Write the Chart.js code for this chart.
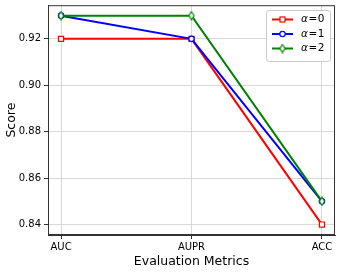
<!DOCTYPE html>
<html><head><meta charset="utf-8">
<script src="https://cdn.jsdelivr.net/npm/chart.js@4/dist/chart.umd.min.js"></script>
<style>html,body{margin:0;padding:0;background:#fff}#wrap{width:341px;height:273px}</style>
</head><body><div id="wrap"><canvas id="c" width="341" height="273"></canvas></div>
<script>
const categories = ['AUC', 'AUPR', 'ACC'];
const alphaLabels = ['0', '1', '2'];
const alpha0 = [0.92, 0.92, 0.84];
const alpha1 = [0.93, 0.92, 0.85];
const alpha2 = [0.93, 0.93, 0.85];
const yTicks = [0.84, 0.86, 0.88, 0.90, 0.92];
const colors = ['#ff0000', '#0000ff', '#008000'];
const FONT = '"DejaVu Sans", sans-serif';

function thinDiamond(color) {
  const c = document.createElement('canvas');
  c.width = 8; c.height = 10;
  const g = c.getContext('2d');
  g.fillStyle = '#fff'; g.strokeStyle = color; g.lineWidth = 1.2;
  g.beginPath(); g.moveTo(4, 1); g.lineTo(6.6, 5); g.lineTo(4, 9); g.lineTo(1.4, 5); g.closePath();
  g.fill(); g.stroke();
  return c;
}
const diamondImg = thinDiamond(colors[2]);
const styles = ['rect', 'circle', diamondImg];
const radii = [3.6, 2.7, 4];

const series = [alpha0, alpha1, alpha2];
const datasets = series.map((s, i) => ({
  label: alphaLabels[i],
  data: s.map((v, j) => ({x: j, y: v})),
  borderColor: colors[i],
  backgroundColor: '#fff',
  borderWidth: 2,
  pointStyle: styles[i],
  pointRadius: radii[i],
  pointBorderWidth: 1.2,
  pointBackgroundColor: '#fff',
  pointBorderColor: colors[i],
  tension: 0,
  order: 3 - i
}));

const framePlugin = {
  id: 'frame',
  afterDatasetsDraw(chart) {
    const {ctx, chartArea: a} = chart;
    ctx.save();
    ctx.strokeStyle = '#333'; ctx.lineWidth = 1;
    ctx.strokeRect(a.left + 0.5, a.top + 0.5, a.right - a.left - 1, a.bottom - a.top - 1);
    // legend
    const lx = 266.5, ly = 10.5, lw = 64, lh = 51;
    ctx.fillStyle = 'rgba(255,255,255,0.8)';
    ctx.strokeStyle = '#cccccc';
    ctx.beginPath();
    ctx.roundRect(lx, ly, lw, lh, 2.5);
    ctx.fill(); ctx.stroke();
    chart.data.datasets.forEach((ds, i) => {
      const y = 19.5 + i * 14.5;
      ctx.strokeStyle = ds.borderColor; ctx.lineWidth = 2;
      ctx.beginPath(); ctx.moveTo(272, y); ctx.lineTo(293, y); ctx.stroke();
      ctx.lineWidth = 1.2; ctx.fillStyle = '#fff';
      if (i === 0) { ctx.fillRect(280, y - 2.5, 5, 5); ctx.strokeRect(280, y - 2.5, 5, 5); }
      else if (i === 1) { ctx.beginPath(); ctx.arc(282.5, y, 2.7, 0, Math.PI * 2); ctx.fill(); ctx.stroke(); }
      else { ctx.drawImage(diamondImg, 278.5, y - 5); }
      ctx.fillStyle = '#000'; ctx.textBaseline = 'middle'; ctx.textAlign = 'left';
      ctx.font = 'italic 10.5px ' + FONT;
      let x = 301;
      ctx.fillText('α', x, y);
      x += ctx.measureText('α').width + 0.5;
      ctx.font = '10.5px ' + FONT;
      ctx.fillText('=', x, y);
      x += ctx.measureText('=').width + 0.5;
      ctx.fillText(ds.label, x, y);
    });
    ctx.restore();
  }
};

new Chart(document.getElementById('c'), {
  type: 'line',
  data: {datasets},
  options: {
    responsive: false, animation: false,
    layout: {padding: {top: 5, right: 6, left: 0, bottom: 0}},
    plugins: {legend: {display: false}, tooltip: {enabled: false}},
    scales: {
      x: {
        type: 'linear', min: -0.1, max: 2.1,
        afterBuildTicks: s => { s.ticks = categories.map((c, i) => ({value: i})); },
        ticks: {callback: v => categories[v], color: '#000', font: {family: FONT, size: 10}, padding: 2, maxRotation: 0, autoSkip: false},
        grid: {color: '#d9d9d9', lineWidth: 1, tickLength: 4, tickColor: '#333'},
        border: {color: '#333'},
        title: {display: true, text: 'Evaluation Metrics', color: '#000', font: {family: FONT, size: 12.5}, padding: {top: 3}},
        afterFit: s => { s.height = 38; s.paddingLeft = 0; s.paddingRight = 0; }
      },
      y: {
        min: 0.8355, max: 0.9345,
        afterBuildTicks: s => { s.ticks = yTicks.map(v => ({value: v})); },
        ticks: {callback: v => v.toFixed(2), color: '#000', font: {family: FONT, size: 10}, padding: 3},
        grid: {color: '#d9d9d9', lineWidth: 1, tickLength: 4, tickColor: '#333'},
        border: {color: '#333'},
        title: {display: true, text: 'Score', color: '#000', font: {family: FONT, size: 12.5}, padding: {bottom: 2}},
        afterFit: s => { s.width = 48; s.paddingTop = 0; s.paddingBottom = 0; }
      }
    }
  },
  plugins: [framePlugin]
});
</script></body></html>
